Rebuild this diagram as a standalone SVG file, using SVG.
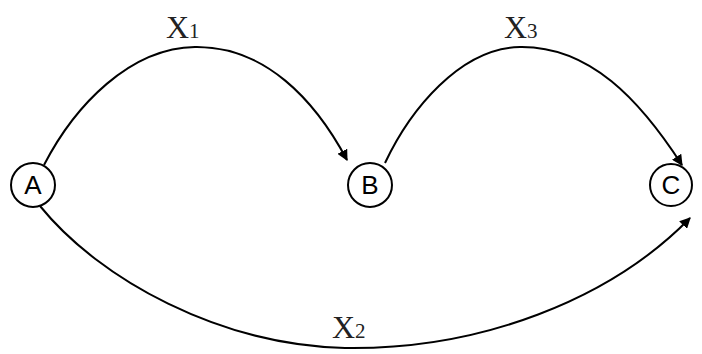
<svg xmlns="http://www.w3.org/2000/svg" width="702" height="354" viewBox="0 0 702 354">
<defs>
<marker id="arr" viewBox="0 0 10 10" refX="9" refY="5" markerWidth="11" markerHeight="11" markerUnits="userSpaceOnUse" orient="auto">
<path d="M0,0 L10,5 L0,10 z" fill="#000"/>
</marker>
<style>
.node circle{fill:#fff;stroke:#000;stroke-width:2}
.node text{font-family:"Liberation Sans",Arial,sans-serif;font-size:26px;text-anchor:middle;fill:#000}
.edge{fill:none;stroke:#000;stroke-width:2;marker-end:url(#arr)}
.lbl{font-family:"Liberation Serif","Times New Roman",serif;font-size:32px;fill:#222}
.sub{font-size:21px}
</style>
</defs>
<rect width="702" height="354" fill="#fff"/>
<g id="connectors">
<path class="edge" d="M44,165 C75,105 130,48 195,47 C265,46 315,100 347,160"/>
<path class="edge" d="M385,163 C410,110 460,48 520,47 C590,46 640,100 682,165"/>
<path class="edge" d="M40,206 C100,280 220,345 345,348 C480,350 610,300 690,218"/>
<text class="lbl" x="166" y="38">X<tspan class="sub" dy="0">1</tspan></text>
<text class="lbl" x="504" y="38">X<tspan class="sub" dy="0">3</tspan></text>
<text class="lbl" x="332" y="338">X<tspan class="sub" dy="0">2</tspan></text>
</g>
<g id="nodeA" class="node"><circle cx="33" cy="185" r="22"/><text x="33" y="194">A</text></g>
<g id="nodeB" class="node"><circle cx="370" cy="185" r="22"/><text x="370" y="194">B</text></g>
<g id="nodeC" class="node"><circle cx="671" cy="185" r="21"/><text x="671" y="194">C</text></g>
</svg>
